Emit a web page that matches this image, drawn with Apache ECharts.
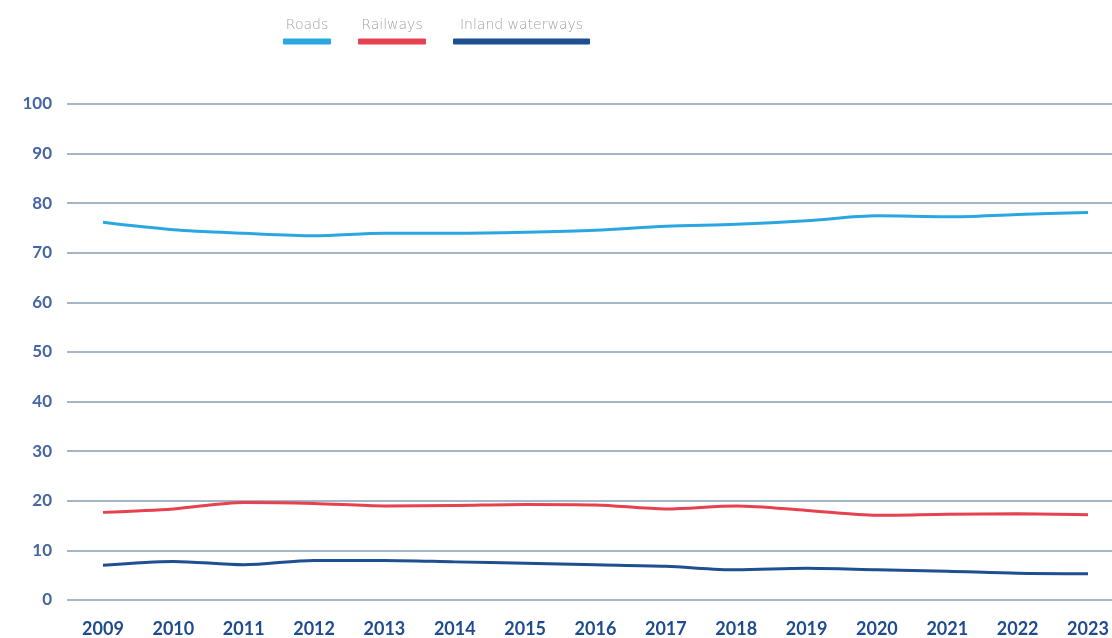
<!DOCTYPE html>
<html>
<head>
<meta charset="utf-8">
<script src="https://cdn.jsdelivr.net/npm/echarts@6/dist/echarts.min.js"></script>
<style>
html,body{margin:0;padding:0;background:#fff;}
#c{width:1112px;height:638px;}
</style>
</head>
<body>
<div id="c"></div>
<script>
const years = ['2009','2010','2011','2012','2013','2014','2015','2016','2017','2018','2019','2020','2021','2022','2023'];
const yTicks = [0,10,20,30,40,50,60,70,80,90,100];
const seriesNames = ['Roads','Railways','Inland waterways'];
const roads = [76.1,74.6,73.9,73.4,73.9,73.9,74.1,74.5,75.3,75.7,76.4,77.4,77.2,77.7,78.1];
const railways = [17.5,18.2,19.5,19.3,18.8,18.9,19.1,19.0,18.2,18.8,17.9,16.9,17.1,17.2,17.0];
const inland = [6.8,7.6,6.9,7.8,7.8,7.5,7.2,6.9,6.6,5.9,6.2,5.9,5.6,5.2,5.1];
const colors = ['#2aa7e0','#e5414f','#1d4f91'];
const values = [roads, railways, inland];
const barWidths = [48, 68, 137];

const chart = echarts.init(document.getElementById('c'));
const rich = { t: { fontSize: 14, color: '#a3a3a3', fontFamily: 'DejaVu Sans', fontWeight: 'lighter', align: 'center', lineHeight: 25 } };
seriesNames.forEach((n, i) => {
  rich['b' + i] = { backgroundColor: colors[i], width: barWidths[i], height: 6, align: 'center', lineHeight: 8, borderRadius: 1 };
});

chart.setOption({
  animation: false,
  backgroundColor: '#ffffff',
  legend: {
    top: 13, left: 273,
    icon: 'none', itemWidth: 0, itemHeight: 0, itemGap: 22,
    data: seriesNames,
    formatter: function (name) { return '{t|' + name + '}\n{b' + seriesNames.indexOf(name) + '|}'; },
    textStyle: { rich: rich }
  },
  grid: [
    { left: 67, right: 0, top: 104, bottom: 38 },
    { left: 103, right: 24, top: 104, bottom: 38 }
  ],
  xAxis: [
    { gridIndex: 0, type: 'value', min: 0, max: 1, show: false },
    { gridIndex: 1, type: 'category', data: years, boundaryGap: false,
      axisLine: { show: false }, axisTick: { show: false },
      axisLabel: { margin: 21, color: '#1f4b91', fontSize: 18, fontWeight: 'bold', fontFamily: 'Lato' } }
  ],
  yAxis: [
    { gridIndex: 0, type: 'value', min: 0, max: 100, interval: 10,
      axisLine: { show: false }, axisTick: { show: false },
      axisLabel: { margin: 15, color: '#4566a3', fontSize: 17, fontWeight: 'bold', fontFamily: 'Lato',
        formatter: v => yTicks.includes(v) ? String(v) : '' },
      splitLine: { lineStyle: { color: '#a6b6c9', width: 2 } } },
    { gridIndex: 1, type: 'value', min: 0, max: 100, interval: 10, show: false, splitLine: { show: false } }
  ],
  series: seriesNames.map((n, i) => ({
    name: n, type: 'line', xAxisIndex: 1, yAxisIndex: 1,
    data: values[i], smooth: 0.3, showSymbol: false, symbol: 'none',
    lineStyle: { color: colors[i], width: 3 }, itemStyle: { color: colors[i] }
  }))
});
</script>
</body>
</html>
